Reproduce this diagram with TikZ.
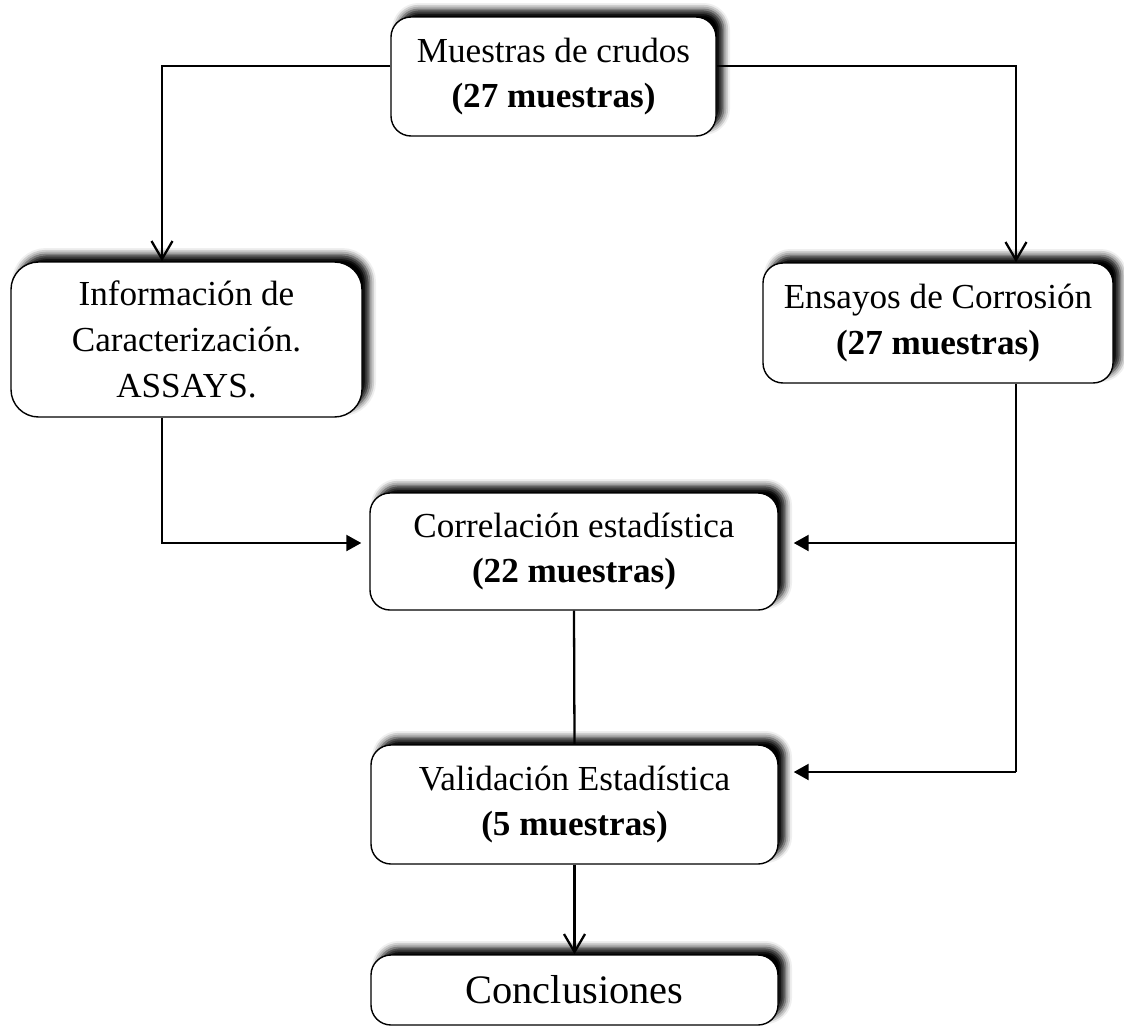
\documentclass[tikz,border=0pt]{standalone}
\usepackage{fontspec}
\setmainfont{Liberation Serif}
\usepackage{tikz}
\usetikzlibrary{arrows.meta,shadows.blur}

\begin{document}
\begin{tikzpicture}[
      box/.style={rectangle,draw,line width=0.8pt,rounded corners=0.4cm,fill=white,
                  align=center,font=\fontsize{20}{26}\selectfont,
                  blur shadow={shadow xshift=0.15cm,shadow yshift=0.15cm,
                               shadow blur radius=0.13cm,shadow opacity=100}},
      barb/.style={-{Straight Barb[length=0.36cm,width=0.42cm]},line width=1.3pt},
      tri/.style={-{Triangle[length=0.3cm,width=0.32cm]},line width=1.3pt},
      link/.style={line width=1.3pt}]
    \useasboundingbox (0,0) rectangle (22.48,-20.52);

    \node[box,minimum width=6.5cm,minimum height=2.38cm] (crudos) at (11.07,-1.53)
      {Muestras de crudos\\\textbf{(27 muestras)}};
    \node[box,rounded corners=0.55cm,minimum width=7.02cm,minimum height=3.1cm] (info) at (3.73,-6.79)
      {Información de\\Caracterización.\\ASSAYS.};
    \node[box,minimum width=7.0cm,minimum height=2.4cm] (ensayos) at (18.76,-6.46)
      {Ensayos de Corrosión\\\textbf{(27 muestras)}};
    \node[box,minimum width=8.16cm,minimum height=2.34cm] (correl) at (11.48,-11.03)
      {Correlación estadística\\\textbf{(22 muestras)}};
    \node[box,minimum width=8.14cm,minimum height=2.38cm] (valid) at (11.49,-16.09)
      {Validación Estadística\\\textbf{(5 muestras)}};
    \node[box,minimum width=8.14cm,minimum height=1.4cm,font=\fontsize{23}{27}\selectfont] (concl) at (11.49,-19.8)
      {Conclusiones};

    % bends of the connectors
    \coordinate (lt) at (3.24,-1.32);
    \coordinate (rt) at (20.32,-1.32);
    \coordinate (lb) at (3.24,-10.86);
    \coordinate (rb) at (20.32,-15.44);

    \draw[barb] (crudos.west |- lt) -- (lt) -- (lt |- info.north);
    \draw[barb] (crudos.east |- rt) -- (rt) -- (rt |- ensayos.north);
    \draw[tri,shorten >=0.16cm] (lb |- info.south) -- (lb) -- (correl.west |- lb);
    \draw[link] (rt |- ensayos.south) -- (rb);
    \draw[tri,shorten >=0.3cm] (rt |- lb) -- (correl.east |- lb);
    \draw[tri,shorten >=0.3cm] (rb) -- (valid.east |- rb);
    \draw[link] (correl.south) -- (valid.north);
    \draw[barb] (valid.south) -- (concl.north);
  \end{tikzpicture}
\end{document}
